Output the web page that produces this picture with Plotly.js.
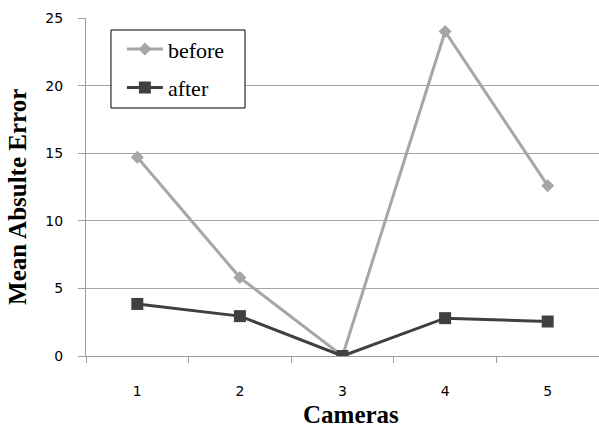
<!DOCTYPE html>
<html>
<head>
<meta charset="utf-8">
<script src="https://cdn.plot.ly/plotly-3.0.1.min.js"></script>
<style>
  html, body { margin: 0; padding: 0; background: #fff; }
  #chart { width: 599px; height: 428px; }
</style>
</head>
<body>
<div id="chart"></div>
<script>
// Camera indices on the x axis
const cameras = ['1', '2', '3', '4', '5'];
// Mean absolute error per camera, before and after correction
const beforeErr = [14.7, 5.8, 0, 24, 12.6];
const afterErr = [3.85, 2.95, 0, 2.8, 2.55];
const yTicks = [0, 5, 10, 15, 20, 25];

const serif = 'Liberation Serif, Times New Roman, serif';
const sans = 'DejaVu Sans, Verdana, sans-serif';

const traces = [
  {
    x: cameras, y: beforeErr, name: 'before', type: 'scatter', mode: 'lines+markers',
    legendgroup: 'b',
    line: { color: '#a6a6a6', width: 3 },
    marker: { symbol: 'diamond', size: 10, color: '#a6a6a6' }
  },
  {
    x: cameras, y: afterErr, name: 'after', type: 'scatter', mode: 'lines+markers',
    legendgroup: 'a',
    line: { color: '#404040', width: 3 },
    marker: { symbol: 'square', size: 12, color: '#404040' }
  }
];

const layout = {
  width: 599, height: 428,
  margin: { l: 86, r: 0, t: 18, b: 72 },
  paper_bgcolor: '#fff', plot_bgcolor: '#fff',
  showlegend: true,
  legend: {
    x: 0.07, y: 0.97, xanchor: 'left', yanchor: 'top',
    borderwidth: 0, bgcolor: 'rgba(0,0,0,0)',
    font: { family: serif, size: 22, color: '#000' },
    traceorder: 'grouped', tracegroupgap: 7, itemwidth: 36
  },
  // legend frame
  shapes: [{
    type: 'rect', xref: 'paper', yref: 'paper', layer: 'above',
    x0: 0.0487, x1: 0.31, y0: 0.7337, y1: 0.9645,
    line: { color: '#000', width: 1 }, fillcolor: '#fff'
  }],
  // axis titles
  annotations: [
    {
      text: 'Mean Absulte Error', textangle: -90,
      xref: 'paper', yref: 'paper', x: -0.135, y: 0.47,
      xanchor: 'center', yanchor: 'middle', showarrow: false,
      font: { family: serif, size: 25, color: '#000', weight: 'bold' }
    },
    {
      text: 'Cameras',
      xref: 'paper', yref: 'paper', x: 0.5166, y: -0.172,
      xanchor: 'center', yanchor: 'middle', showarrow: false,
      font: { family: serif, size: 25, color: '#000', weight: 'bold' }
    }
  ],
  xaxis: {
    type: 'category',
    range: [-0.5, 4.5],
    showgrid: false,
    showline: true, linecolor: '#9e9e9e', linewidth: 1,
    ticks: 'outside', ticklen: 6, tickcolor: '#9e9e9e',
    tickson: 'boundaries',
    ticklabelstandoff: 22,
    tickfont: { family: sans, size: 14, color: '#000' },
    zeroline: false, fixedrange: true
  },
  yaxis: {
    range: [0, 25],
    tickvals: yTicks,
    showgrid: true, gridcolor: '#a6a6a6', gridwidth: 1,
    showline: true, linecolor: '#9e9e9e', linewidth: 1,
    ticks: 'outside', ticklen: 7, tickcolor: '#9e9e9e',
    ticklabelstandoff: 12,
    tickfont: { family: sans, size: 14, color: '#000' },
    zeroline: false, fixedrange: true
  }
};

Plotly.newPlot('chart', traces, layout, { displayModeBar: false, staticPlot: true });
</script>
</body>
</html>
